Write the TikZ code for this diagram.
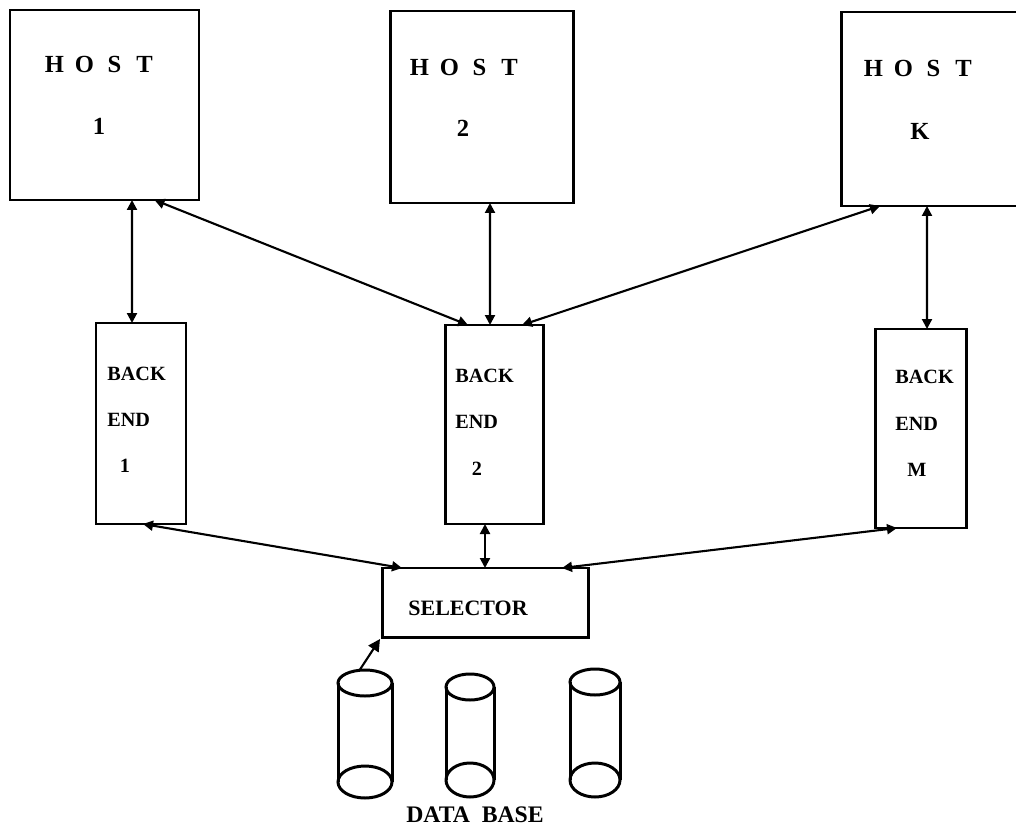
\documentclass[tikz,border=0pt]{standalone}
\usepackage{fontspec}
\setmainfont{Liberation Serif}
\newcommand\hostcell[1]{\makebox[0.6cm]{#1}}
\usetikzlibrary{arrows.meta,calc}
\begin{document}
\begin{tikzpicture}[x=0.02cm,y=-0.02cm,
  box/.style={draw,line width=1.7pt,rectangle,inner sep=0pt,outer sep=0pt},
  conn/.style={line width=1.2pt,{Triangle[length=0.2cm,width=0.2cm]}-{Triangle[length=0.2cm,width=0.2cm]}},
  oneway/.style={line width=1.2pt,-{Triangle[length=0.24cm,width=0.24cm]}},
  hosttxt/.style={inner sep=0pt,font=\bfseries\fontsize{14}{16}\selectfont},
  betxt/.style={inner sep=0pt,font=\bfseries\fontsize{11.5}{13}\selectfont},
  seltxt/.style={inner sep=0pt,font=\bfseries\fontsize{12.5}{14}\selectfont},
  dbtxt/.style={inner sep=0pt,font=\bfseries\fontsize{13.5}{15}\selectfont},
  cyl/.style={line width=1.7pt}]
\useasboundingbox (0,0) rectangle (1016,827);
\clip (0,0) rectangle (1016,827);
\fill[white] (0,0) rectangle (1016,827);

% hosts
\node[box,minimum width=189*0.02cm,minimum height=190*0.02cm] (h1) at (104.5,105) {};
\node[box,minimum width=183*0.02cm,minimum height=192*0.02cm] (h2) at (481.5,107) {};
\node[box,minimum width=189*0.02cm,minimum height=194*0.02cm] (hk) at (935.5,109) {};
\node[hosttxt,anchor=base] (h1a) at (99.5,73) {\hostcell{H}\hostcell{O}\hostcell{S}\hostcell{T}};
\node[hosttxt,anchor=base] (h1b) at (99,135) {1};
\node[hosttxt,anchor=base] (h2a) at (464.5,76) {\hostcell{H}\hostcell{O}\hostcell{S}\hostcell{T}};
\node[hosttxt,anchor=base] (h2b) at (463,137) {2};
\node[hosttxt,anchor=base] (hka) at (918.5,77) {\hostcell{H}\hostcell{O}\hostcell{S}\hostcell{T}};
\node[hosttxt,anchor=base] (hkb) at (920,140) {K};

% back ends
\node[box,minimum width=90*0.02cm,minimum height=201*0.02cm] (be1) at (141,423.5) {};
\node[box,minimum width=98*0.02cm,minimum height=199*0.02cm] (be2) at (494,424.5) {};
\node[box,minimum width=91*0.02cm,minimum height=199*0.02cm] (bem) at (920.5,428.5) {};
\node[betxt,anchor=base west] (be1a) at (107,380) {BACK};
\node[betxt,anchor=base west] (be1b) at (107,426) {END};
\node[betxt,anchor=base] (be1c) at (125,472) {1};
\node[betxt,anchor=base west] (be2a) at (455,382) {BACK};
\node[betxt,anchor=base west] (be2b) at (455,428) {END};
\node[betxt,anchor=base] (be2c) at (477,475) {2};
\node[betxt,anchor=base west] (bema) at (895,383) {BACK};
\node[betxt,anchor=base west] (bemb) at (895,430) {END};
\node[betxt,anchor=base] (bemc) at (917,476) {M};

% selector
\node[box,minimum width=206*0.02cm,minimum height=69*0.02cm] (sel) at (485,602.5) {};
\node[seltxt,anchor=base] (selt) at (468,615) {SELECTOR};

% upper connectors
\draw[conn] ($(h1.south)+(27.5,0)$) -- ($(be1.north)+(-9,0)$);
\draw[conn] ($(h1.south)+(50,0)$) -- ($(be2.north)+(-26,0)$);
\draw[conn] ($(h2.south)+(8.5,0)$) -- ($(be2.north)+(-4,0)$);
\draw[conn] ($(hk.south)+(-55.5,0)$) -- ($(be2.north)+(28,0)$);
\draw[conn] ($(hk.south)+(-8.5,0)$) -- ($(bem.north)+(6.5,0)$);

% lower connectors
\draw[conn] ($(be1.south)+(2,0)$) -- ($(sel.north)+(-83,0)$);
\draw[conn] ($(be2.south)+(-9,0)$) -- ($(sel.north)+(0,0)$);
\draw[conn] ($(bem.south)+(-23.5,0)$) -- ($(sel.north)+(77,0)$);

% data base cylinders
\draw[cyl] (365,683) ellipse [x radius=27, y radius=13];
\draw[cyl] (338,683) -- (338,782) (392,683) -- (392,782);
\draw[cyl] (365,782) ellipse [x radius=27, y radius=16];
\draw[cyl] (470,687) ellipse [x radius=24, y radius=13];
\draw[cyl] (446,687) -- (446,780) (494,687) -- (494,780);
\draw[cyl] (470,780) ellipse [x radius=24, y radius=17];
\draw[cyl] (595,682) ellipse [x radius=25, y radius=13];
\draw[cyl] (570,682) -- (570,780) (620,682) -- (620,780);
\draw[cyl] (595,780) ellipse [x radius=25, y radius=17];
\coordinate (db1top) at (359,671);
\draw[oneway] (db1top) -- ($(sel.south west)+(-2,2)$);
\node[dbtxt,anchor=base] (dbt) at (475,822) {DATA\ \ BASE};
\end{tikzpicture}
\end{document}
